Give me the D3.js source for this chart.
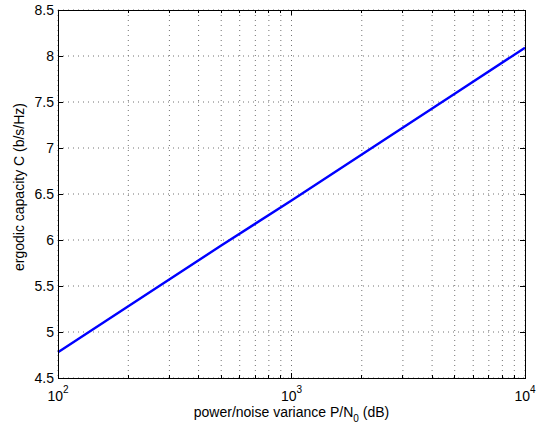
<!DOCTYPE html>
<html>
<head>
<meta charset="utf-8">
<script src="https://cdn.jsdelivr.net/npm/d3@7"></script>
<style>
  body { margin: 0; background: #fff; }
  text { font-family: "Liberation Sans", Arial, sans-serif; fill: #000; }
</style>
</head>
<body>
<svg id="chart" width="545" height="427"></svg>
<script>
// power/noise variance samples (linear) and capacity
const snr = [100, 200, 500, 1000, 2000, 5000, 10000];
const capacity = [4.78, 5.28, 5.94, 6.43, 6.93, 7.59, 8.09];
const yTicks = [4.5, 5, 5.5, 6, 6.5, 7, 7.5, 8, 8.5];
const xDecades = [2, 3, 4];

const svg = d3.select("#chart");
const m = { left: 58, right: 20, top: 10, bottom: 49 };
const W = 545 - m.left - m.right;
const H = 427 - m.top - m.bottom;
const g = svg.append("g").attr("transform", `translate(${m.left},${m.top})`);

const x = d3.scaleLog().domain([100, 10000]).range([0, W]);
const y = d3.scaleLinear().domain([4.5, 8.5]).range([H, 0]);

// minor x positions (2..9 per decade)
const minorX = [];
[100, 1000].forEach(b => { for (let k = 2; k <= 9; k++) minorX.push(b * k); });
const majorX = xDecades.map(d => Math.pow(10, d));

// grid
const grid = g.append("g").attr("stroke", "#000").attr("stroke-width", 1)
  .attr("stroke-dasharray", "1,4").attr("opacity", 0.55);
majorX.concat(minorX).forEach(v => {
  grid.append("line").attr("x1", x(v)).attr("x2", x(v)).attr("y1", 0).attr("y2", H);
});
yTicks.forEach(v => {
  grid.append("line").attr("x1", 0).attr("x2", W).attr("y1", y(v)).attr("y2", y(v));
});

// data line
const line = d3.line().x((d, i) => x(snr[i])).y(d => y(d));
g.append("path").datum(capacity).attr("d", line)
  .attr("fill", "none").attr("stroke", "#0000ff").attr("stroke-width", 2.4);

// box and inward ticks
const tk = g.append("g").attr("stroke", "#000").attr("stroke-width", 1).attr("shape-rendering", "crispEdges");
tk.append("rect").attr("width", W).attr("height", H).attr("fill", "none");
majorX.forEach(v => {
  tk.append("line").attr("x1", x(v)).attr("x2", x(v)).attr("y1", H).attr("y2", H - 5);
  tk.append("line").attr("x1", x(v)).attr("x2", x(v)).attr("y1", 0).attr("y2", 5);
});
minorX.forEach(v => {
  tk.append("line").attr("x1", x(v)).attr("x2", x(v)).attr("y1", H).attr("y2", H - 3);
  tk.append("line").attr("x1", x(v)).attr("x2", x(v)).attr("y1", 0).attr("y2", 3);
});
yTicks.forEach(v => {
  tk.append("line").attr("x1", 0).attr("x2", 5).attr("y1", y(v)).attr("y2", y(v));
  tk.append("line").attr("x1", W).attr("x2", W - 5).attr("y1", y(v)).attr("y2", y(v));
});

// y tick labels
g.selectAll(".ylab").data(yTicks).enter().append("text")
  .attr("x", -4).attr("y", d => y(d)).attr("dy", "0.35em")
  .attr("text-anchor", "end").attr("font-size", 14)
  .text(d => d3.format("")(d));

// x tick labels 10^n
xDecades.forEach(d => {
  const t = g.append("text").attr("x", x(Math.pow(10, d))).attr("y", H + 23)
    .attr("text-anchor", "middle").attr("font-size", 14);
  t.append("tspan").text("10");
  t.append("tspan").attr("dy", -8).attr("font-size", 10).text(d);
});

// axis labels
const xl = g.append("text").attr("x", W / 2).attr("y", H + 39)
  .attr("text-anchor", "middle").attr("font-size", 14);
xl.append("tspan").text("power/noise variance P/N");
xl.append("tspan").attr("dy", 5).attr("font-size", 10).text("0");
xl.append("tspan").attr("dy", -5).text(" (dB)");

g.append("text").attr("transform", `translate(${-34},${H / 2 - 7}) rotate(-90)`)
  .attr("text-anchor", "middle").attr("font-size", 14)
  .text("ergodic capacity C (b/s/Hz)");
</script>
</body>
</html>
